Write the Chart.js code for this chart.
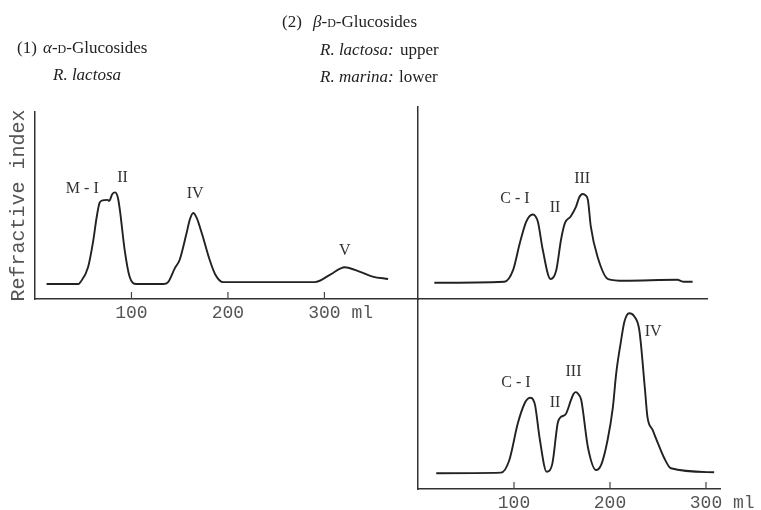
<!DOCTYPE html>
<html>
<head>
<meta charset="utf-8">
<title>Glucosides - gel filtration</title>
<script src="https://cdn.jsdelivr.net/npm/chart.js"></script>
<style>
  body { margin: 0; background: #fff; }
  #wrap { position: relative; width: 761px; height: 510px; overflow: hidden; }
  #wrap canvas { position: absolute; left: 0; top: 0; }
  .t { position: absolute; font: 17px "Liberation Serif", "Times New Roman", serif; color: #222; line-height: 20px; white-space: pre; }
  .i { font-style: italic; }
  .sc { font-variant: small-caps; }
</style>
</head>
<body>
<div id="wrap">
  <canvas id="alfa" width="761" height="510"></canvas>
  <canvas id="betaUp" width="761" height="510"></canvas>
  <canvas id="betaLow" width="761" height="510"></canvas>

  <div class="t" style="left:17px;top:38px">(1)</div>
  <div class="t" style="left:43px;top:38px"><span class="i">α</span>-<span class="sc">d</span>-Glucosides</div>
  <div class="t i" style="left:53px;top:65px">R. lactosa</div>

  <div class="t" style="left:282px;top:12px">(2)</div>
  <div class="t" style="left:313px;top:12px"><span class="i">β</span>-<span class="sc">d</span>-Glucosides</div>
  <div class="t i" style="left:320px;top:40px">R. lactosa:</div>
  <div class="t" style="left:400px;top:40px">upper</div>
  <div class="t i" style="left:320px;top:67px">R. marina:</div>
  <div class="t" style="left:399px;top:67px">lower</div>
</div>

<script>
// (1) alpha-D-glucosides, R. lactosa  (elution volume ml / refractive index, arbitrary)
const alfaMl = [12, 45, 47, 55, 60, 64, 67, 70, 75, 77, 80, 83, 86, 88, 93, 98, 105, 133, 138, 145, 150, 157, 160.5, 164, 167.5, 173, 181, 187, 195, 290, 306, 321, 337, 350, 366];
const alfaRi = [8, 8, 9, 17, 30, 44, 51.5, 52.7, 53, 52.5, 56, 57, 54, 47.5, 26, 12, 8, 8, 9, 16.5, 21, 35, 42.5, 46, 43.5, 35, 21, 13, 9, 9, 13, 17, 14.5, 12, 10.7];
const alfaPeaks = ['M - I', 'II', 'IV', 'V'];
const alfaPeakMl = [49, 90.7, 166, 321];
const alfaPeakRi = [59, 65, 56.4, 26];

// (2) beta-D-glucosides, R. lactosa (upper)
const upMl = [17, 90, 99, 106, 112.5, 116, 119.5, 122.5, 125, 130, 138, 144, 149, 153, 159, 164.5, 168, 171.5, 174.5, 177, 180, 187, 198, 215, 270, 277, 286];
const upRi = [8.5, 9, 15, 29, 40, 43, 44, 43, 40, 25.5, 10.4, 15, 31, 39.5, 43, 48, 53, 54.7, 54, 51.5, 37.7, 22, 10.4, 9.5, 10, 9, 9];
const upPeaks = ['C - I', 'II', 'III'];
const upPeakMl = [101, 142.7, 171];
const upPeakRi = [52, 47.4, 62.5];

// (2) beta-D-glucosides, R. marina (lower)
const lowMl = [19, 86.5, 95, 104, 111, 114, 117, 120, 122, 127, 134, 140, 145.5, 148, 154, 159.5, 162, 164.5, 167, 170, 177, 185.5, 191, 197.5, 203, 206.5, 211.5, 215, 220, 225, 230.5, 236.5, 239, 244.5, 250, 256.5, 263.5, 308.5];
const lowRi = [8.3, 8.6, 15, 34.6, 45, 47.3, 48, 47, 44, 25.8, 9.1, 13.5, 34.6, 37.5, 39.5, 47, 50, 51, 50, 47, 22, 10, 13, 25.8, 43, 61, 78, 88, 92.5, 91, 83.7, 52, 38, 31, 24, 16.3, 10.9, 8.8];
const lowPeaks = ['C - I', 'II', 'III', 'IV'];
const lowPeakMl = [102, 142.7, 162, 245];
const lowPeakRi = [55.8, 45.5, 61.6, 83];

const xTicks = [100, 200, 300];
const mono = "'Liberation Mono', 'DejaVu Sans Mono', monospace";

// short tick marks pointing up into the plot
const tickMarks = {
  id: 'tickMarks',
  afterDraw(chart) {
    const x = chart.scales.x;
    if (!x.options.ticks.display) return;
    const ctx = chart.ctx;
    ctx.save();
    ctx.strokeStyle = '#444';
    ctx.lineWidth = 1.2;
    x.ticks.forEach(t => {
      const px = x.getPixelForValue(t.value);
      ctx.beginPath();
      ctx.moveTo(px, x.top);
      ctx.lineTo(px, x.top - 7);
      ctx.stroke();
    });
    ctx.restore();
  }
};

// peak names placed at data coordinates
const peakLabels = {
  id: 'peakLabels',
  afterDatasetsDraw(chart, args, opts) {
    const ctx = chart.ctx;
    ctx.save();
    ctx.font = '16px "Liberation Serif", "Times New Roman", serif';
    ctx.fillStyle = '#333';
    ctx.textAlign = 'center';
    ctx.textBaseline = 'middle';
    opts.text.forEach((t, i) => {
      ctx.fillText(t, chart.scales.x.getPixelForValue(opts.ml[i]), chart.scales.y.getPixelForValue(opts.ri[i]));
    });
    ctx.restore();
  }
};

function makeChart(id, ml, ri, cfg) {
  const pts = ml.map((v, i) => ({x: v, y: ri[i]}));
  return new Chart(document.getElementById(id), {
    type: 'line',
    data: {
      datasets: [{
        data: pts,
        borderColor: '#222',
        borderWidth: 1.9,
        pointRadius: 0,
        cubicInterpolationMode: 'monotone',
        fill: false
      }]
    },
    options: {
      responsive: false,
      animation: false,
      events: [],
      layout: { padding: cfg.padding },
      plugins: {
        legend: { display: false },
        tooltip: { enabled: false },
        peakLabels: cfg.peaks
      },
      scales: {
        x: {
          type: 'linear',
          min: 0,
          max: cfg.xMax,
          grid: { display: false, drawTicks: false },
          border: { display: true, color: '#333', width: 1.5 },
          ticks: {
            display: cfg.showTicks,
            autoSkip: false,
            maxRotation: 0,
            padding: 3,
            color: '#555',
            font: { family: mono, size: 18 },
            callback: v => v === 300 ? '   300 ml' : String(v)
          },
          afterBuildTicks: s => { s.ticks = xTicks.map(v => ({value: v})); },
          afterFit: s => { s.height = cfg.xH; s.paddingLeft = 0; s.paddingRight = 0; }
        },
        y: {
          min: 0,
          max: 100,
          grid: { display: false, drawTicks: false },
          border: { display: true, color: '#333', width: 1.5 },
          ticks: { display: false },
          title: {
            display: !!cfg.yTitle,
            text: cfg.yTitle || '',
            color: '#555',
            font: { family: mono, size: 20 },
            padding: { top: 2, bottom: 0 }
          },
          afterFit: s => { s.width = cfg.yW; s.paddingTop = 0; s.paddingBottom = 0; }
        }
      }
    },
    plugins: [tickMarks, peakLabels]
  });
}

makeChart('alfa', alfaMl, alfaRi, {
  padding: { left: 5, top: 112, right: 343, bottom: 181 },
  xMax: 397, xH: 30, yW: 30, showTicks: true, yTitle: 'Refractive index',
  peaks: { text: alfaPeaks, ml: alfaPeakMl, ri: alfaPeakRi }
});

makeChart('betaUp', upMl, upRi, {
  padding: { left: 417, top: 107, right: 54, bottom: 210 },
  xMax: 301, xH: 1, yW: 1, showTicks: false,
  peaks: { text: upPeaks, ml: upPeakMl, ri: upPeakRi }
});

makeChart('betaLow', lowMl, lowRi, {
  padding: { left: 417, top: 299, right: 41, bottom: 1 },
  xMax: 314.6, xH: 20, yW: 1, showTicks: true,
  peaks: { text: lowPeaks, ml: lowPeakMl, ri: lowPeakRi }
});
</script>
</body>
</html>
